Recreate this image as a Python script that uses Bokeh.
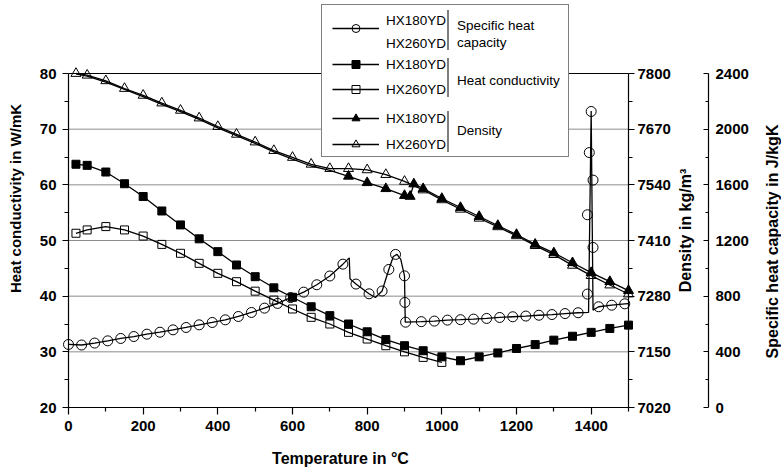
import math
from bokeh.plotting import figure
from bokeh.models import Range1d, LinearAxis, FixedTicker, Legend, LegendItem, Label
from bokeh.embed import file_html
from bokeh.resources import INLINE

FONT = "Liberation Sans"

# ---------------- axis ticks ----------------
temp_ticks = [0, 200, 400, 600, 800, 1000, 1200, 1400]
temp_minor = [100, 300, 500, 700, 900, 1100, 1300, 1500]
hc_ticks = [20, 30, 40, 50, 60, 70, 80]
hc_minor = [25, 35, 45, 55, 65, 75]
dens_ticks = [7020, 7150, 7280, 7410, 7540, 7670, 7800]
dens_minor = [7085, 7215, 7345, 7475, 7605, 7735]
cp_ticks = [0, 400, 800, 1200, 1600, 2000, 2400]
cp_minor = [200, 600, 1000, 1400, 1800, 2200]
x_lo, x_hi = 0, 1500

# ---------------- heat conductivity (W/mK) ----------------
temp_hc180 = [20, 50, 100, 150, 200, 250, 300, 350, 400, 450, 500, 550, 600, 650, 700, 750,
              800, 850, 900, 950, 1000, 1050, 1100, 1150, 1200, 1250, 1300, 1350, 1400, 1450, 1500]
hc_hx180 = [63.7, 63.5, 62.3, 60.2, 57.9, 55.3, 52.8, 50.3, 48.0, 45.6, 43.5, 41.5, 39.8, 38.1, 36.5, 35.0,
            33.6, 32.2, 31.1, 30.2, 29.1, 28.4, 29.1, 29.8, 30.6, 31.3, 32.1, 32.8, 33.5, 34.2, 34.8]
temp_hc260 = [20, 50, 100, 150, 200, 250, 300, 350, 400, 450, 500, 550, 600, 650, 700, 750,
              800, 850, 900, 950, 1000]
hc_hx260 = [51.3, 51.9, 52.5, 51.9, 50.8, 49.3, 47.7, 45.9, 44.1, 42.6, 40.9, 39.3, 37.7, 36.2, 35.0, 33.5,
            32.3, 31.1, 30.0, 29.0, 28.1]

# ---------------- density (kg/m3) ----------------
temp_dens180 = [20, 50, 100, 150, 200, 250, 300, 350, 400, 450, 500, 550, 600, 650, 700, 750, 800, 850, 900,
                915, 925, 950, 1000, 1050, 1100, 1150, 1200, 1250, 1300, 1350, 1400, 1450, 1500]
dens_hx180 = [7799, 7794, 7780, 7763, 7746, 7728, 7711, 7693, 7673, 7655, 7637, 7617, 7600, 7584, 7574, 7560,
              7545, 7531, 7515, 7513, 7542, 7531, 7508, 7487, 7466, 7445, 7424, 7401, 7381, 7358, 7335, 7314, 7293]
temp_dens260 = [20, 50, 100, 150, 200, 250, 300, 350, 400, 450, 500, 550, 600, 650, 700, 750,
                800, 850, 900, 950, 1000, 1050, 1100, 1150, 1200, 1250, 1300, 1350, 1400, 1450, 1500]
dens_hx260 = [7800, 7796, 7783, 7765, 7749, 7731, 7714, 7696, 7676, 7658, 7640, 7620, 7604, 7588, 7578, 7578,
              7575, 7564, 7548, 7528, 7505, 7483, 7462, 7442, 7421, 7398, 7377, 7352, 7328, 7306, 7285]

# ---------------- specific heat capacity (J/kgK), HX180YD and HX260YD coincide ----------------
cp_line_temp = [0, 35, 70, 105, 140, 175, 210, 245, 280, 315, 350, 385, 420, 455, 490, 525, 560, 595, 630,
                665, 700, 735, 752, 754, 770, 805, 822, 840, 858, 870, 880, 890, 900, 902,
                945, 980, 1015, 1050, 1085, 1120, 1155, 1190, 1225, 1260, 1295, 1330, 1365,
                1393, 1400, 1405, 1420, 1455, 1490, 1500]
cp_line_val = [453, 449, 463, 479, 496, 510, 527, 541, 558, 575, 594, 611, 630, 654, 683, 714, 748, 790, 829,
               882, 945, 1030, 1075, 925, 887, 817, 790, 837, 992, 1085, 1100, 1065, 946, 613,
               617, 621, 628, 631, 635, 640, 647, 652, 657, 663, 668, 675, 681,
               683, 2130, 700, 724, 735, 745, 747]
cp_mark_temp = [0, 35, 70, 105, 140, 175, 210, 245, 280, 315, 350, 385, 420, 455, 490, 525, 560, 595, 630,
                665, 700, 735, 770, 805, 840, 858, 876, 900, 901, 903,
                945, 980, 1015, 1050, 1085, 1120, 1155, 1190, 1225, 1260, 1295, 1330, 1365,
                1390, 1390, 1395, 1400, 1405, 1405, 1420, 1455, 1490]
cp_mark_val = [453, 449, 463, 479, 496, 510, 527, 541, 558, 575, 594, 611, 630, 654, 683, 714, 748, 790, 829,
               882, 945, 1030, 887, 817, 837, 992, 1100, 946, 755, 613,
               617, 621, 628, 631, 635, 640, 647, 652, 657, 663, 668, 675, 681,
               815, 1385, 1832, 2127, 1634, 1150, 724, 735, 745]

legend_series = ["HX180YD", "HX260YD"]
legend_groups = ["Specific heat", "capacity", "Heat conductivity", "Density"]
titles = ["Heat conductivity in W/mK", "Temperature in °C", "Density in kg/m³",
          "Specific heat capacity in J/kgK"]

# ---------------- layout: the frame covers the whole canvas, axes are pinned inside ----------------
W, H = 781, 468
PL, PR, PT, PB = 68, 628, 73, 407       # canvas px of the value area
CP_AXIS_PX = 708                        # canvas x of the specific-heat axis


def xv(px):
    return x_lo + (px - PL) * (x_hi - x_lo) / (PR - PL)


def vv(lo, hi, py):
    return lo + (PB - py) * (hi - lo) / (PB - PT)


hc_lo, hc_hi = hc_ticks[0], hc_ticks[-1]
d_lo, d_hi = dens_ticks[0], dens_ticks[-1]
c_lo, c_hi = cp_ticks[0], cp_ticks[-1]

p = figure(width=W, height=H, output_backend="svg", toolbar_location=None, title=None,
           x_range=Range1d(xv(0), xv(W)), y_range=Range1d(vv(hc_lo, hc_hi, H), vv(hc_lo, hc_hi, 0)),
           min_border_left=0, min_border_right=0, min_border_top=0, min_border_bottom=0)
p.min_border = 0
p.background_fill_color = "white"
p.border_fill_color = "white"
p.outline_line_color = None
p.xgrid.visible = False
p.ygrid.visible = False
p.extra_y_ranges = {"dens": Range1d(vv(d_lo, d_hi, H), vv(d_lo, d_hi, 0)),
                    "cp": Range1d(vv(c_lo, c_hi, H), vv(c_lo, c_hi, 0))}


def style_axis(ax):
    ax.axis_line_color = "black"
    ax.axis_line_width = 1.2
    ax.major_tick_line_color = "black"
    ax.minor_tick_line_color = "black"
    ax.major_tick_line_width = 1.2
    ax.minor_tick_line_width = 1.2
    ax.major_label_text_font = FONT
    ax.major_label_text_font_style = "bold"
    ax.major_label_text_font_size = "15px"
    ax.major_label_text_color = "black"


xa = p.xaxis[0]
style_axis(xa)
xa.ticker = FixedTicker(ticks=temp_ticks, minor_ticks=temp_minor)
xa.fixed_location = hc_lo
xa.bounds = (x_lo, x_hi)
xa.major_tick_out, xa.major_tick_in, xa.minor_tick_out, xa.minor_tick_in = 7, 0, 4, 0
xa.major_label_standoff = 6

ya = p.yaxis[0]
style_axis(ya)
ya.ticker = FixedTicker(ticks=hc_ticks, minor_ticks=hc_minor)
ya.fixed_location = x_lo
ya.bounds = (hc_lo, hc_hi)
ya.major_tick_out, ya.major_tick_in, ya.minor_tick_out, ya.minor_tick_in = 6, 0, 4, 0
ya.major_label_standoff = 6

dens_axis = LinearAxis(y_range_name="dens", ticker=FixedTicker(ticks=dens_ticks, minor_ticks=dens_minor))
style_axis(dens_axis)
dens_axis.fixed_location = x_hi
dens_axis.bounds = (d_lo, d_hi)
dens_axis.major_tick_out, dens_axis.major_tick_in, dens_axis.minor_tick_out, dens_axis.minor_tick_in = 6, 0, 4, 0
dens_axis.major_label_standoff = 3
p.add_layout(dens_axis, "right")

cp_axis = LinearAxis(y_range_name="cp", ticker=FixedTicker(ticks=cp_ticks, minor_ticks=cp_minor))
style_axis(cp_axis)
cp_axis.fixed_location = xv(CP_AXIS_PX)
cp_axis.bounds = (c_lo, c_hi)
cp_axis.major_tick_out, cp_axis.major_tick_in, cp_axis.minor_tick_out, cp_axis.minor_tick_in = 0, 5, 0, 3
cp_axis.major_label_standoff = 7
p.add_layout(cp_axis, "right")

# horizontal grid lines (inside the value area only) and the top border
grid_vals = hc_ticks[1:-1]
p.segment(x0=[x_lo] * len(grid_vals), y0=grid_vals, x1=[x_hi] * len(grid_vals), y1=grid_vals,
          line_color="#8c8c8c", line_width=1)
p.segment(x0=[x_lo], y0=[hc_hi], x1=[x_hi], y1=[hc_hi], line_color="black", line_width=1.2)


# ---------------- axis titles ----------------
def title(txt, cx, cy, angle, size):
    p.add_layout(Label(x=xv(cx), y=vv(hc_lo, hc_hi, cy), text=txt, angle=angle,
                       text_font=FONT, text_font_size=size, text_font_style="bold",
                       text_color="black", text_align="center", text_baseline="middle"))


title(titles[0], 15, 198, math.pi / 2, "15px")
title(titles[1], 340, 458, 0, "16px")
title(titles[2], 685, 230, math.pi / 2, "16px")
title(titles[3], 772, 241, math.pi / 2, "16px")

# ---------------- glyphs ----------------
LW = 1.3
cp_line_r = p.line(cp_line_temp, cp_line_val, y_range_name="cp", line_color="black", line_width=LW)
cp_mk_r = p.scatter(cp_mark_temp, cp_mark_val, y_range_name="cp", marker="circle", size=10,
                    fill_color=None, line_color="black", line_width=1)

hc260_line = p.line(temp_hc260, hc_hx260, line_color="black", line_width=LW)
hc260_mk = p.scatter(temp_hc260, hc_hx260, marker="square", size=8, fill_color=None,
                     line_color="black", line_width=1)
hc180_line = p.line(temp_hc180, hc_hx180, line_color="black", line_width=LW)
hc180_mk = p.scatter(temp_hc180, hc_hx180, marker="square", size=8, fill_color="black",
                     line_color="black", line_width=1)

d260_line = p.line(temp_dens260, dens_hx260, y_range_name="dens", line_color="black", line_width=LW)
d260_mk = p.scatter(temp_dens260, dens_hx260, y_range_name="dens", marker="triangle", size=10,
                    fill_color=None, line_color="black", line_width=1)
d180_line = p.line(temp_dens180, dens_hx180, y_range_name="dens", line_color="black", line_width=LW)
d180_mk = p.scatter(temp_dens180[15:], dens_hx180[15:], y_range_name="dens", marker="triangle", size=10,
                    fill_color="black", line_color="black", line_width=1)

dummy = p.line(x=[], y=[], line_alpha=0)


# ---------------- legend (built from several borderless legends) ----------------
def make_legend(items, left, bottom, gh, sp, **kw):
    opts = dict(items=items, location=(left, H - bottom), orientation="vertical", padding=0, margin=0,
                spacing=sp, glyph_height=gh, label_height=gh, glyph_width=47, label_standoff=7,
                border_line_color=None, background_fill_alpha=0,
                label_text_font=FONT, label_text_font_size="13.5px", label_text_color="black")
    opts.update(kw)
    lg = Legend(**opts)
    p.add_layout(lg, "center")
    return lg


# outer box
make_legend([LegendItem(label=" ", renderers=[dummy])], 321, 157, 151, 0,
            glyph_width=1, label_standoff=0, label_width=245, label_text_font_size="1px",
            border_line_color="black", border_line_width=1, background_fill_color="white",
            background_fill_alpha=1)
# vertical group bars
for top, bottom in [(12, 50), (60, 97), (113, 152)]:
    make_legend([LegendItem(label=" ", renderers=[dummy])], 447, bottom, bottom - top, 0,
                glyph_width=0, label_standoff=0, label_width=0, label_text_font_size="1px",
                border_line_color="black", border_line_width=1)
# specific heat rows (text) and one sample
make_legend([LegendItem(label=legend_series[0], renderers=[dummy]),
             LegendItem(label=legend_series[1], renderers=[dummy])], 332, 51, 16, 7)
make_legend([LegendItem(label=" ", renderers=[cp_line_r, cp_mk_r])], 332, 38, 20, 0)
# heat conductivity rows
make_legend([LegendItem(label=legend_series[0], renderers=[hc180_line, hc180_mk]),
             LegendItem(label=legend_series[1], renderers=[hc260_line, hc260_mk])], 332, 99, 20, 5)
# density rows
make_legend([LegendItem(label=legend_series[0], renderers=[d180_line, d180_mk]),
             LegendItem(label=legend_series[1], renderers=[d260_line, d260_mk])], 332, 154, 20, 6)
# group names
grp_kw = dict(glyph_width=0, label_standoff=0)
make_legend([LegendItem(label=legend_groups[0], renderers=[dummy]),
             LegendItem(label=legend_groups[1], renderers=[dummy])], 457, 50, 16, 1, **grp_kw)
make_legend([LegendItem(label=legend_groups[2], renderers=[dummy])], 457, 88, 16, 0, **grp_kw)
make_legend([LegendItem(label=legend_groups[3], renderers=[dummy])], 457, 138, 16, 0, **grp_kw)

open("out.html", "w").write(file_html(p, INLINE))
